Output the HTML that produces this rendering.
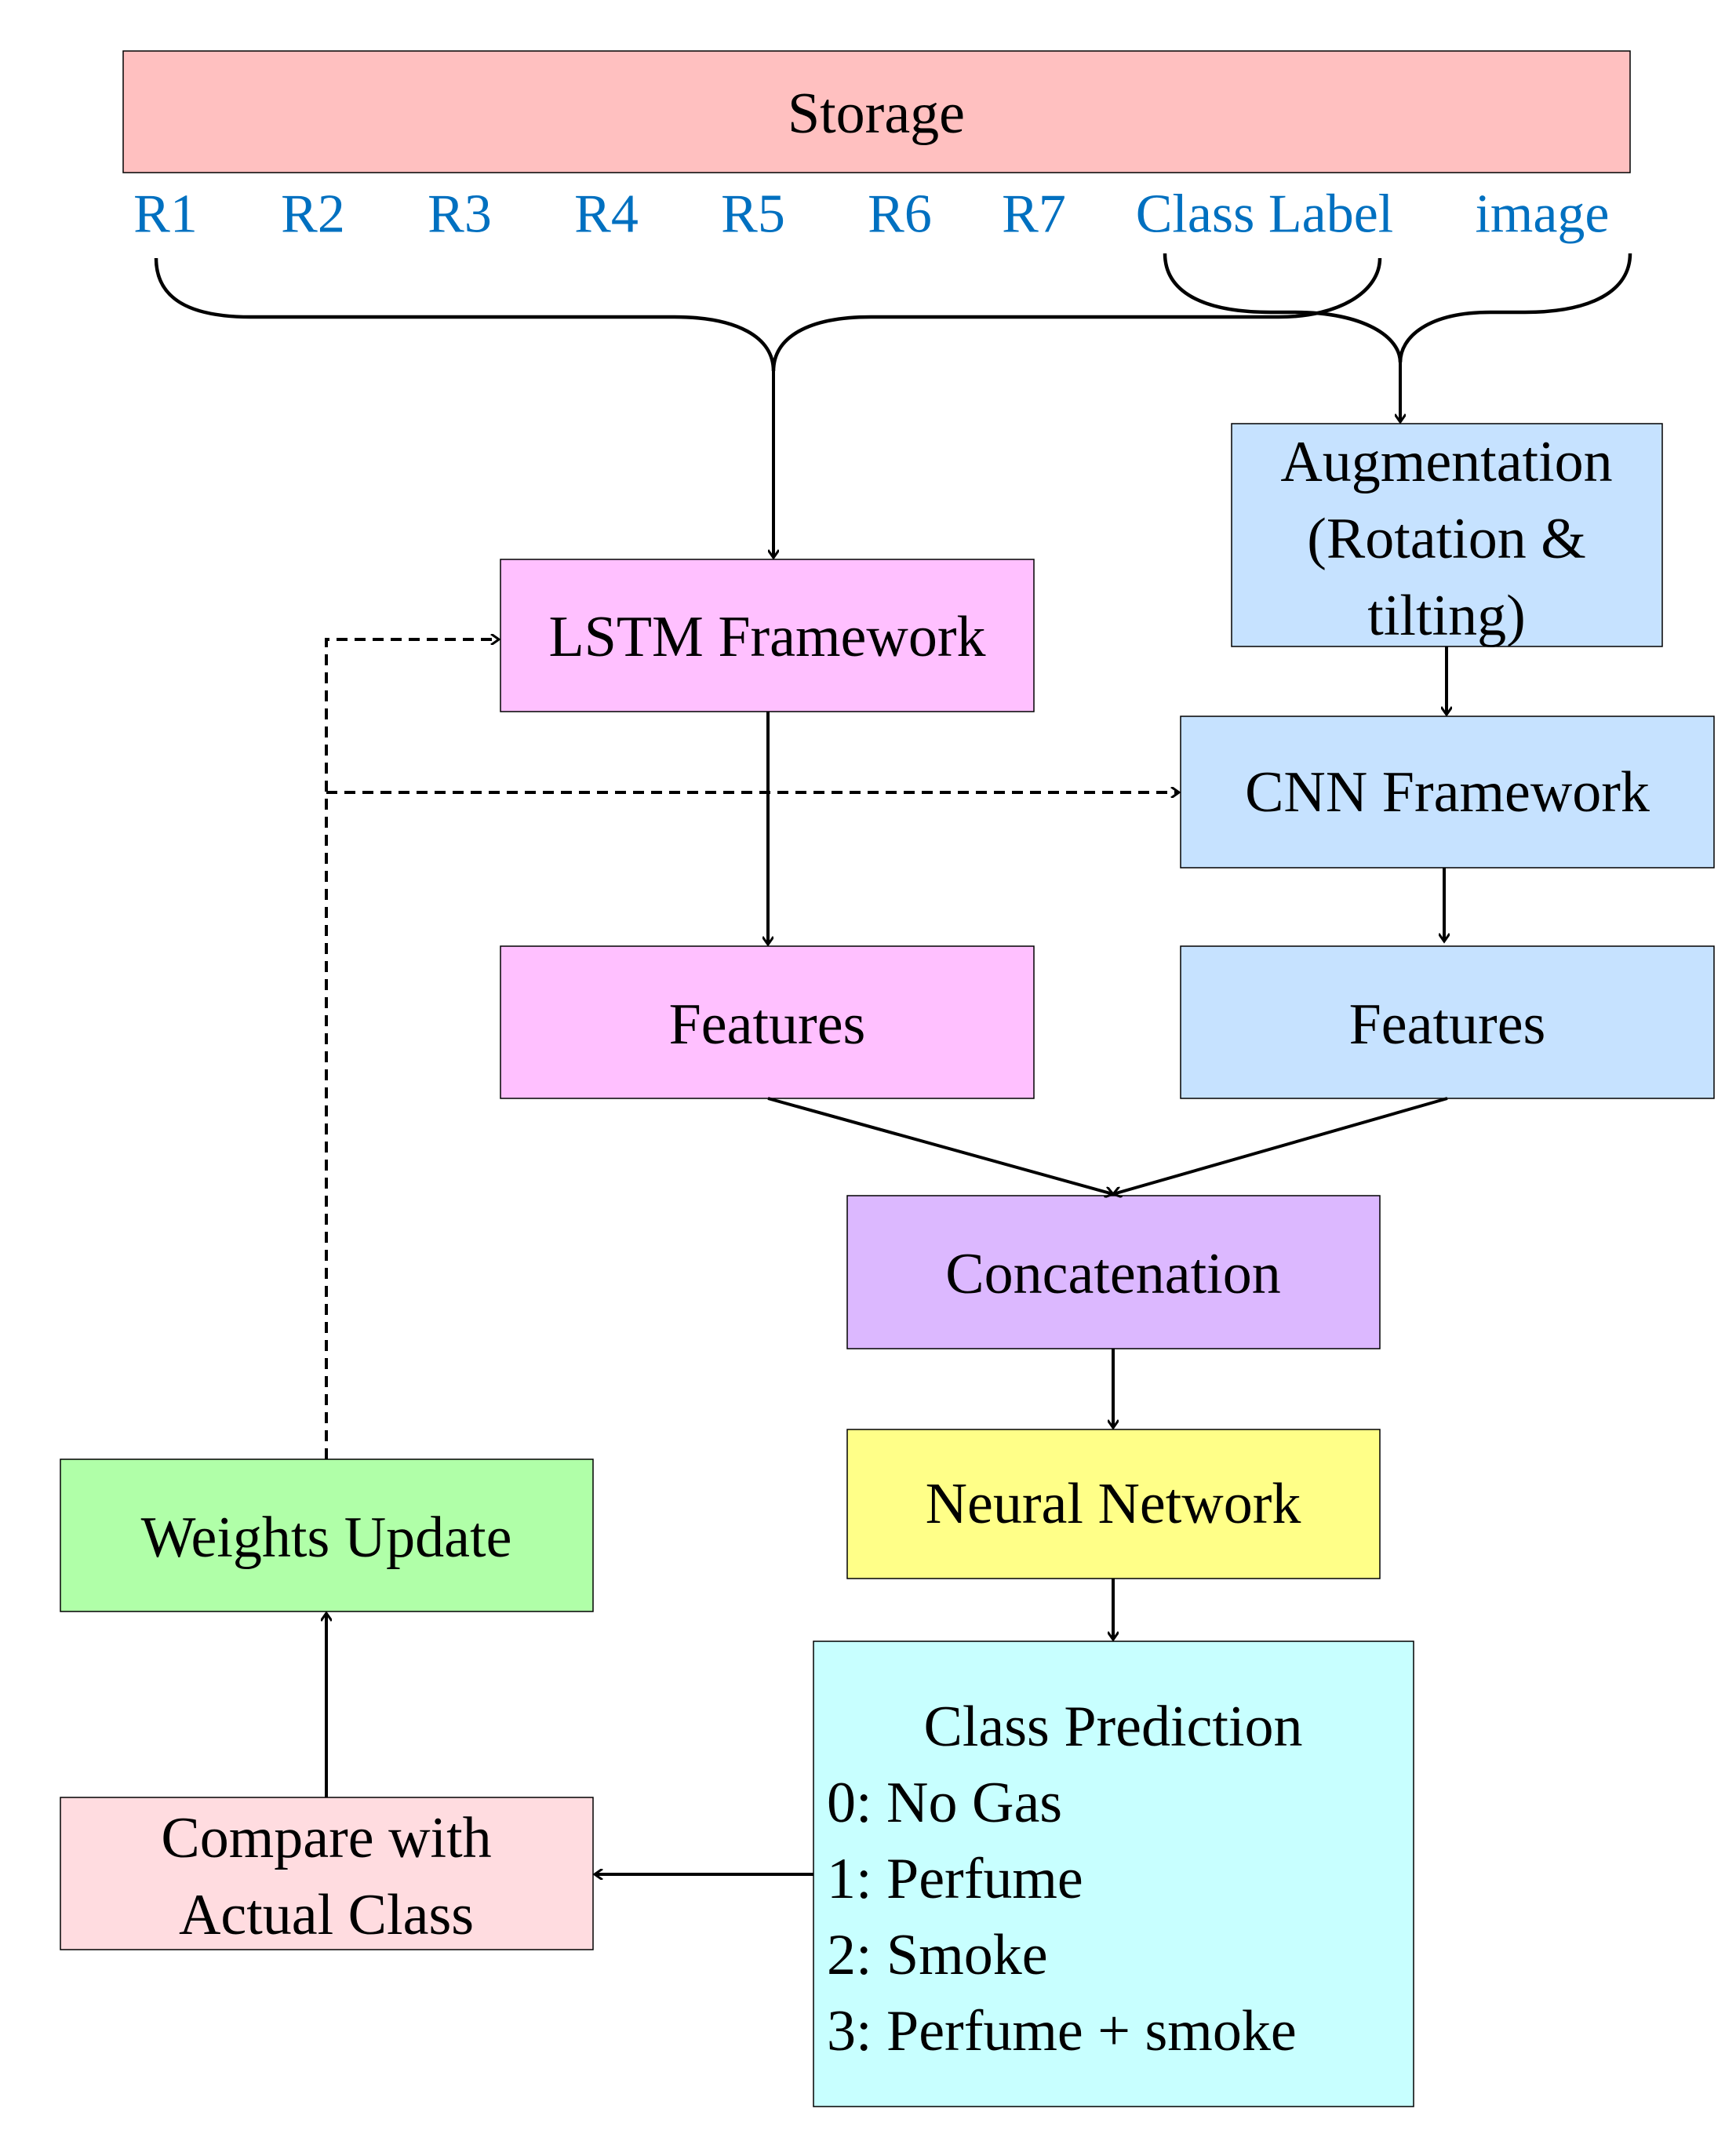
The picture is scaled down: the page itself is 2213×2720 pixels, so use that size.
<!DOCTYPE html>
<html><head><meta charset="utf-8"><style>
html,body{margin:0;padding:0;background:#fff;}
svg{display:block;}
text{font-family:"Liberation Serif",serif;}
</style></head><body>
<svg width="2213" height="2720" viewBox="0 0 2213 2720" xmlns="http://www.w3.org/2000/svg">
<defs>
<marker id="a" markerWidth="14" markerHeight="14" refX="11" refY="7" orient="auto" markerUnits="userSpaceOnUse">
<path d="M1,0 L11,7 L1,14" fill="none" stroke="#000" stroke-width="3"/>
</marker>
</defs>
<g stroke="#000" stroke-width="1.5">
<rect x="157" y="65" width="1921" height="155" fill="#FFC0C0"/>
<rect x="638" y="713" width="680" height="194" fill="#FFC0FF"/>
<rect x="1570" y="540" width="549" height="284" fill="#C6E2FF"/>
<rect x="1505" y="913" width="680" height="193" fill="#C6E2FF"/>
<rect x="638" y="1206" width="680" height="194" fill="#FFC0FF"/>
<rect x="1505" y="1206" width="680" height="194" fill="#C6E2FF"/>
<rect x="1080" y="1524" width="679" height="195" fill="#DCB8FF"/>
<rect x="1080" y="1822" width="679" height="190" fill="#FFFF88"/>
<rect x="1037" y="2092" width="765" height="593" fill="#C8FFFF"/>
<rect x="77" y="1860" width="679" height="194" fill="#B0FFA8"/>
<rect x="77" y="2291" width="679" height="194" fill="#FFDCE0"/>
</g>
<g fill="none" stroke="#000" stroke-width="4.5">
<path d="M199,329 C199,380 240,404 320,404 L860,404 C940,404 986,430 986,473 C986,430 1030,404 1110,404 L1630,404 C1710,404 1759,370 1759,329"/>
<path d="M1485,323 C1485,370 1530,398 1620,398 L1650,398 C1740,398 1785,430 1785,462 C1785,430 1820,398 1900,398 L1944,398 C2030,398 2078,370 2078,323"/>
</g>
<g fill="none" stroke="#000" stroke-width="4" marker-end="url(#a)">
<line x1="986" y1="473" x2="986" y2="711"/>
<line x1="1785" y1="462" x2="1785" y2="538"/>
<line x1="1844" y1="824" x2="1844" y2="911"/>
<line x1="979" y1="907" x2="979" y2="1204"/>
<line x1="1841" y1="1106" x2="1841" y2="1200"/>
<line x1="979" y1="1400" x2="1419" y2="1522"/>
<line x1="1845" y1="1400" x2="1419" y2="1522"/>
<line x1="1419" y1="1719" x2="1419" y2="1820"/>
<line x1="1419" y1="2012" x2="1419" y2="2090"/>
<line x1="1037" y1="2389" x2="758" y2="2389"/>
<line x1="416" y1="2291" x2="416" y2="2056"/>
</g>
<g fill="none" stroke="#000" stroke-width="4" stroke-dasharray="14,9">
<path d="M416,1860 L416,815 L636,815" marker-end="url(#a)"/>
<path d="M416,1010 L1503,1010" marker-end="url(#a)"/>
</g>
<g font-size="74" fill="#000" text-anchor="middle" dominant-baseline="central">
<text x="1117" y="145">Storage</text>
<text x="978" y="812">LSTM Framework</text>
<text x="1844" y="589">Augmentation</text>
<text x="1844" y="687">(Rotation &amp;</text>
<text x="1844" y="785">tilting)</text>
<text x="1845" y="1010">CNN Framework</text>
<text x="978" y="1306">Features</text>
<text x="1845" y="1306">Features</text>
<text x="1419" y="1624">Concatenation</text>
<text x="1419" y="1917">Neural Network</text>
<text x="416" y="1960">Weights Update</text>
<text x="416" y="2343">Compare with</text>
<text x="416" y="2441">Actual Class</text>
<text x="1419" y="2201">Class Prediction</text>
</g>
<g font-size="74" fill="#000" dominant-baseline="central">
<text x="1054" y="2298">0: No Gas</text>
<text x="1054" y="2395">1: Perfume</text>
<text x="1054" y="2492">2: Smoke</text>
<text x="1054" y="2589">3: Perfume + smoke</text>
</g>
<g font-size="70" fill="#0070C0" text-anchor="middle" dominant-baseline="central">
<text x="211" y="273">R1</text>
<text x="399" y="273">R2</text>
<text x="586" y="273">R3</text>
<text x="773" y="273">R4</text>
<text x="960" y="273">R5</text>
<text x="1147" y="273">R6</text>
<text x="1318" y="273">R7</text>
<text x="1612" y="273">Class Label</text>
<text x="1966" y="273">image</text>
</g>
</svg>
</body></html>
